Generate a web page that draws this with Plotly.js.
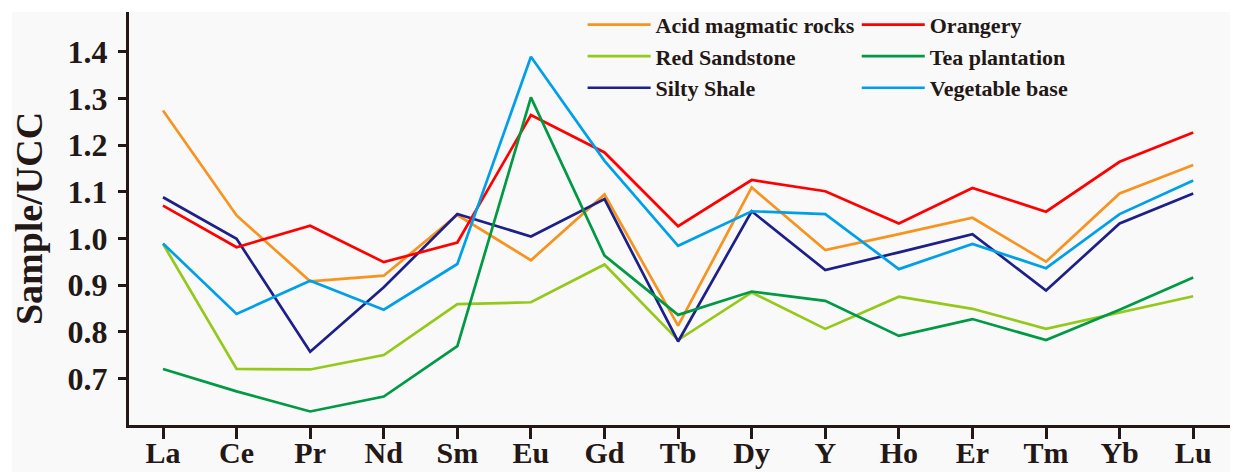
<!DOCTYPE html>
<html>
<head>
<meta charset="utf-8">
<script src="https://cdn.plot.ly/plotly-3.0.1.min.js"></script>
<style>html,body{margin:0;padding:0;background:#fff;}#chart{width:1233px;height:472px;}</style>
</head>
<body>
<div id="chart"></div>
<script>
const elements = ["La","Ce","Pr","Nd","Sm","Eu","Gd","Tb","Dy","Y","Ho","Er","Tm","Yb","Lu"];
const yTicks = [0.7,0.8,0.9,1.0,1.1,1.2,1.3,1.4];

const acidMagmaticRocks = [1.274,1.049,0.908,0.920,1.050,0.953,1.094,0.813,1.109,0.975,1.009,1.044,0.950,1.096,1.157];
const redSandstone      = [0.988,0.720,0.719,0.750,0.859,0.863,0.944,0.782,0.884,0.806,0.875,0.849,0.806,0.841,0.876];
const siltyShale        = [1.088,0.999,0.757,0.895,1.052,1.004,1.084,0.779,1.058,0.932,0.970,1.009,0.888,1.032,1.096];
const orangery          = [1.070,0.981,1.027,0.949,0.991,1.264,1.184,1.026,1.125,1.101,1.032,1.108,1.057,1.164,1.227];
const teaPlantation     = [0.720,0.672,0.629,0.661,0.769,1.302,0.963,0.836,0.886,0.866,0.791,0.827,0.782,0.847,0.916];
const vegetableBase     = [0.989,0.838,0.909,0.847,0.945,1.389,1.166,0.984,1.058,1.052,0.934,0.988,0.936,1.052,1.124];

const seriesNames = ["Acid magmatic rocks","Red Sandstone","Silty Shale","Orangery","Tea plantation","Vegetable base"];
const seriesValues = [acidMagmaticRocks, redSandstone, siltyShale, orangery, teaPlantation, vegetableBase];
const seriesColors = ["#f7931e","#94c91a","#1d2088","#ff0000","#009944","#00a0e9"];
const seriesLegend = ["legend","legend","legend","legend2","legend2","legend2"];

const ink = "#231815";
const fontFam = "'Liberation Serif','Times New Roman',serif";

const traces = seriesNames.map((n,i)=>({
  type:"scatter", mode:"lines", name:n, x:elements, y:seriesValues[i],
  line:{color:seriesColors[i], width:2.7}, legend:seriesLegend[i]
}));

const legendStyle = {
  orientation:"v", xanchor:"left", yanchor:"top", y:1.02,
  bgcolor:"rgba(0,0,0,0)", borderwidth:0, itemwidth:63,
  font:{family:fontFam, size:22, color:ink, weight:"bold"},
  tracegroupgap:0
};

const layout = {
  width:1233, height:472,
  margin:{l:129, r:3, t:12, b:47},
  paper_bgcolor:"#ffffff",
  plot_bgcolor:"rgba(0,0,0,0)",
  font:{family:fontFam, color:ink, weight:"bold"},
  showlegend:true,
  legend:Object.assign({}, legendStyle, {x:0.412}),
  legend2:Object.assign({}, legendStyle, {x:0.661}),
  xaxis:{
    type:"category", range:[-0.462,14.5], showgrid:false, zeroline:false,
    showline:true, linecolor:ink, linewidth:3,
    ticks:"outside", ticklen:11, tickwidth:3, tickcolor:ink,
    ticklabelstandoff:-12,
    tickfont:{family:fontFam, size:30, color:ink, weight:"bold"}
  },
  yaxis:{
    range:[0.6,1.485], showgrid:false, zeroline:false,
    showline:true, linecolor:ink, linewidth:3,
    ticks:"outside", ticklen:8, tickwidth:3, tickcolor:ink,
    tickvals:yTicks, tickformat:".1f", ticklabelstandoff:4,
    tickfont:{family:fontFam, size:32, color:ink, weight:"bold"},
    title:{text:"Sample/UCC", standoff:14, font:{family:fontFam, size:38, color:ink, weight:"bold"}}
  },
  shapes:[{
    type:"rect", xref:"paper", yref:"paper", layer:"below",
    x0:-0.1063, x1:1.0, y0:-0.12, y1:1.0,
    fillcolor:"#f9f9f9", line:{width:0}
  }]
};

Plotly.newPlot("chart", traces, layout, {staticPlot:true});
</script>
</body>
</html>
